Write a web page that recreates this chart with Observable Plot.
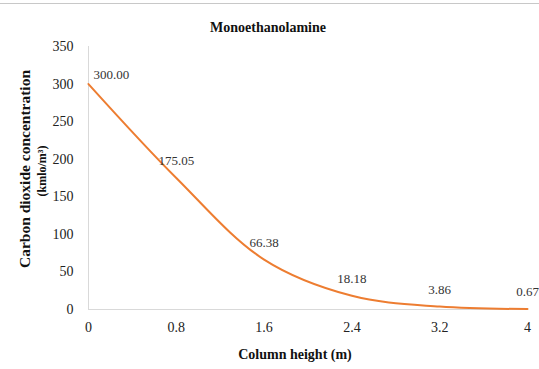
<!DOCTYPE html>
<html>
<head>
<meta charset="utf-8">
<script src="https://cdn.jsdelivr.net/npm/d3@7"></script>
<script src="https://cdn.jsdelivr.net/npm/@observablehq/plot@0.6"></script>
<style>
  html, body { margin: 0; padding: 0; background: #fff; }
  #wrap { position: relative; width: 539px; height: 369px; overflow: hidden; }
  #topRule { position: absolute; left: 0; top: 3px; width: 539px; height: 1px; background: #c8c8c8; }
  svg { font-family: "Liberation Serif", "Times New Roman", serif; }
</style>
</head>
<body>
<div id="wrap"><div id="topRule"></div></div>
<script>
// Column height (m) and CO2 concentration along the MEA absorber column
const heights = [0, 0.8, 1.6, 2.4, 3.2, 4];
const concentrations = [300.00, 175.05, 66.38, 18.18, 3.86, 0.67];
const xTicks = [0, 0.8, 1.6, 2.4, 3.2, 4];
const yTicks = [0, 50, 100, 150, 200, 250, 300, 350];
const chartTitle = "Monoethanolamine";
const xTitle = "Column height (m)";
const yTitle = "Carbon dioxide concentration";
const yUnit = "(kmlo/m³)";

const rows = heights.map((h, i) => ({h, c: concentrations[i], i}));

const chart = Plot.plot({
  width: 539,
  height: 369,
  marginTop: 46,
  marginLeft: 88,
  marginRight: 12,
  marginBottom: 60,
  style: {fontFamily: "Liberation Serif, Times New Roman, serif", background: "#fff"},
  x: {domain: [0, 4], ticks: xTicks, label: null},
  y: {domain: [0, 350], ticks: yTicks, label: null},
  marks: [
    Plot.ruleX([0], {stroke: "#d9d9d9", strokeWidth: 1}),
    Plot.ruleY([0], {stroke: "#d9d9d9", strokeWidth: 1}),
    Plot.axisX({ticks: xTicks, tickSize: 0, tickPadding: 13, fontSize: 14, fill: "#222", tickFormat: d => String(d), label: null}),
    Plot.axisY({ticks: yTicks, tickSize: 0, tickPadding: 15, fontSize: 14, fill: "#222", label: null}),
    Plot.line(rows, {x: "h", y: "c", stroke: "#ED7D31", strokeWidth: 2, curve: "catmull-rom"}),
    Plot.text(rows.filter(d => d.i === 0), {x: "h", y: "c", text: d => d.c.toFixed(2), textAnchor: "start", dx: 5, dy: -9, fontSize: 13, fill: "#333"}),
    Plot.text(rows.filter(d => d.i > 0), {x: "h", y: "c", text: d => d.c.toFixed(2), dy: -17, fontSize: 13, fill: "#333"}),
    Plot.text([chartTitle], {frameAnchor: "top", lineAnchor: "middle", dx: -40, dy: -19, fontSize: 14, fontWeight: "bold", fill: "#111"}),
    Plot.text([xTitle], {frameAnchor: "bottom", lineAnchor: "middle", dx: -13, dy: 45, fontSize: 14, fontWeight: "bold", fill: "#111"}),
    Plot.text([yTitle], {frameAnchor: "left", textAnchor: "middle", lineAnchor: "middle", dx: -63, dy: -9, rotate: -90, fontSize: 15.5, fontWeight: "bold", fill: "#111"}),
    Plot.text([yUnit], {frameAnchor: "left", textAnchor: "middle", lineAnchor: "middle", dx: -46, dy: -7, rotate: -90, fontSize: 12, fontWeight: "bold", fill: "#111"})
  ]
});
document.getElementById("wrap").appendChild(chart);
</script>
</body>
</html>
